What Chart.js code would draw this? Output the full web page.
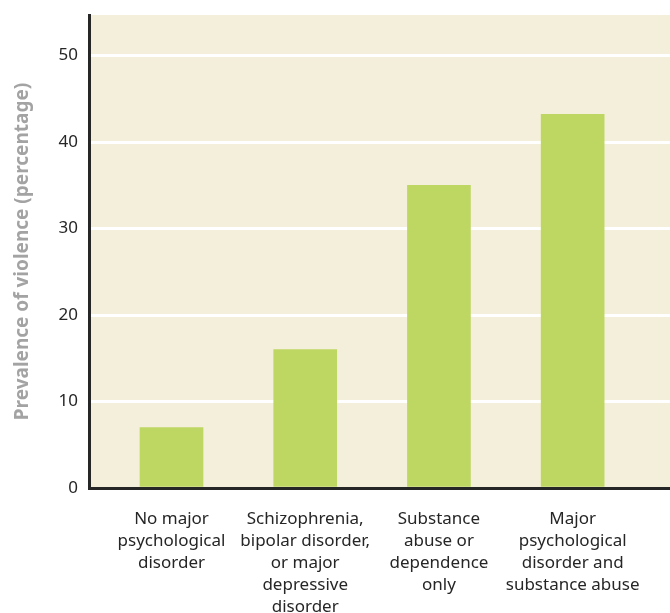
<!DOCTYPE html>
<html>
<head>
<meta charset="utf-8">
<script src="https://cdn.jsdelivr.net/npm/chart.js@4.4.1/dist/chart.umd.min.js"></script>
<style>
  html, body { margin: 0; padding: 0; background: #ffffff; }
  #wrap { width: 670px; height: 613px; }
</style>
</head>
<body>
<div id="wrap"><canvas id="chart" width="670" height="613"></canvas></div>
<script>
// Prevalence of violence by diagnostic group
const categories = [
  ['No major', 'psychological', 'disorder'],
  ['Schizophrenia,', 'bipolar disorder,', 'or major', 'depressive', 'disorder'],
  ['Substance', 'abuse or', 'dependence', 'only'],
  ['Major', 'psychological', 'disorder and', 'substance abuse']
];
const prevalence = [7, 16, 35, 43.2];
const yTicks = [0, 10, 20, 30, 40, 50];
const yTitle = 'Prevalence of violence (percentage)';

const FONT = "'Noto Sans', 'Open Sans', sans-serif";
const INK = '#262626';

// Fill the plotting area with the beige panel
const panelBackground = {
  id: 'panelBackground',
  beforeDraw(chart) {
    const { ctx, chartArea: a } = chart;
    ctx.save();
    ctx.fillStyle = '#f4efda';
    ctx.fillRect(a.left, a.top, a.right - a.left, a.bottom - a.top);
    ctx.restore();
  }
};

new Chart(document.getElementById('chart'), {
  type: 'bar',
  data: {
    datasets: [{
      data: prevalence.map((v, i) => ({ x: i, y: v })),
      backgroundColor: '#bed762',
      borderWidth: 0,
      barThickness: 63
    }]
  },
  options: {
    responsive: false,
    animation: false,
    devicePixelRatio: 1,
    layout: { padding: { top: 15, right: 0, left: 0, bottom: 0 } },
    plugins: { legend: { display: false }, tooltip: { enabled: false } },
    scales: {
      x: {
        type: 'linear',
        offset: false,
        min: -0.617,
        max: 3.728,
        afterBuildTicks(scale) {
          scale.ticks = categories.map((_, i) => ({ value: i }));
        },
        afterFit(scale) {
          scale.height = 125;
          scale.paddingLeft = 0;
          scale.paddingRight = 0;
        },
        grid: { display: false, drawTicks: false, offset: false },
        border: { display: true, color: INK, width: 3 },
        ticks: {
          autoSkip: false,
          maxRotation: 0,
          padding: 20,
          color: INK,
          font: { family: FONT, size: 17, lineHeight: 1.3 },
          callback: (v) => categories[v]
        }
      },
      y: {
        min: 0,
        max: 54.7,
        afterBuildTicks(scale) {
          scale.ticks = yTicks.map(v => ({ value: v }));
        },
        afterFit(scale) {
          scale.width = 89;
          scale.paddingTop = 0;
          scale.paddingBottom = 0;
        },
        grid: {
          color: (c) => c.tick && c.tick.value === 0 ? 'rgba(0,0,0,0)' : '#ffffff',
          lineWidth: 3,
          drawTicks: false
        },
        border: { display: true, color: INK, width: 3 },
        ticks: {
          padding: 11,
          color: INK,
          font: { family: FONT, size: 17 }
        },
        title: {
          display: true,
          text: yTitle,
          color: '#a3a3a3',
          padding: { top: 11, bottom: 0 },
          font: { family: FONT, size: 19, weight: 'bold' }
        }
      }
    }
  },
  plugins: [panelBackground]
});
</script>
</body>
</html>
